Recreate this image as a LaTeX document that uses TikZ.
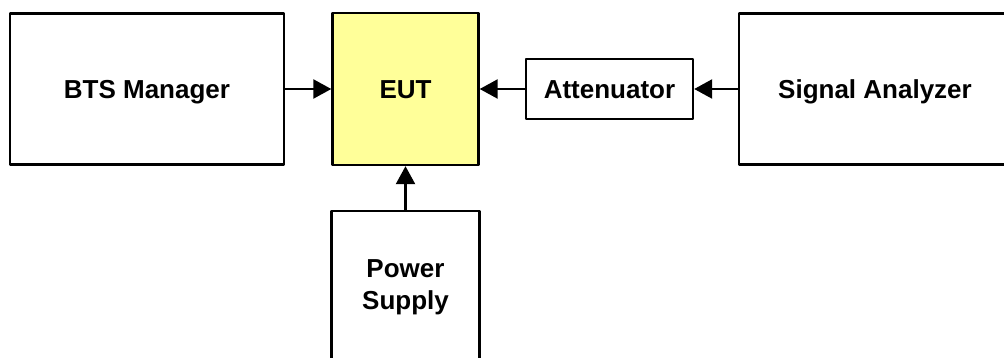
\documentclass[tikz,border=0pt]{standalone}
\usepackage{fontspec}
\setmainfont{Liberation Sans}
\usetikzlibrary{arrows.meta}
\definecolor{euty}{RGB}{255,255,153}
\begin{document}
\begin{tikzpicture}[x=1pt,y=-1pt,
  box/.style={draw=black, line width=2.4pt, fill=white, font=\fontsize{26}{32}\selectfont\bfseries, align=center, inner sep=0pt, line join=round},
  oneline/.style={text depth=0pt, text height=18.6pt},
  conn/.style={line width=2.4pt, -{Triangle[length=18pt,width=19pt]}}]
\useasboundingbox (0,0) rectangle (1004,358);
\clip (0,0) rectangle (1004,358);
\node[box, oneline, minimum width=274pt, minimum height=151pt] (bts) at (147,89) {BTS Manager};
\node[box, oneline, fill=euty, minimum width=146pt, minimum height=152pt] (eut) at (405.5,89) {EUT};
\node[box, oneline, minimum width=167pt, minimum height=60pt] (att) at (609.5,89) {Attenuator};
\node[box, oneline, minimum width=272pt, minimum height=151pt] (sa) at (875,89) {Signal Analyzer};
\node[box, minimum width=148pt, minimum height=152pt] (ps) at (405.5,287) {Power\\Supply};
\draw[conn] (bts) -- (eut);
\draw[conn] (att) -- (eut);
\draw[conn] (sa) -- (att);
\draw[conn] (ps) -- (eut);
\end{tikzpicture}
\end{document}
